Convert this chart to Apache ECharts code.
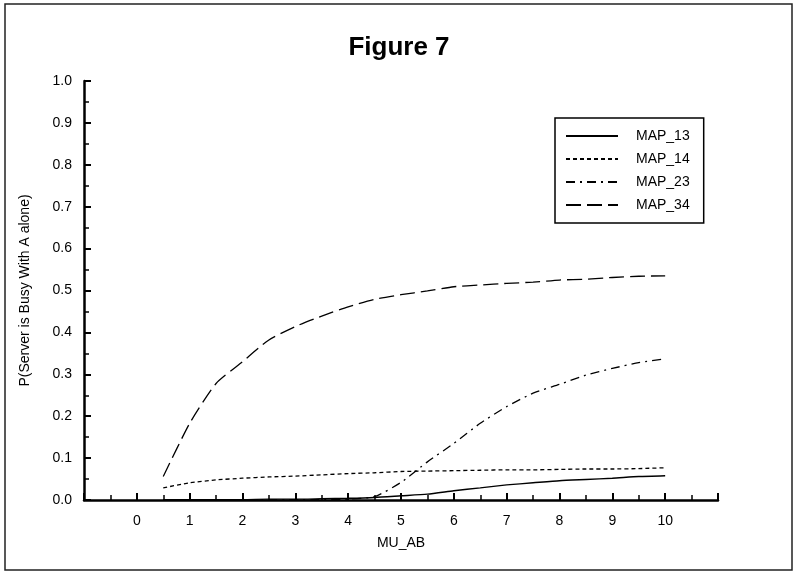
<!DOCTYPE html>
<html>
<head>
<meta charset="utf-8">
<script src="https://cdn.jsdelivr.net/npm/echarts@6/dist/echarts.min.js"></script>
<style>
  html, body { margin: 0; padding: 0; background: #fff; }
  #main { width: 798px; height: 577px; }
</style>
</head>
<body>
<div id="main"></div>
<script>
// x values (MU_AB)
var muAB = [0.5, 1, 1.5, 2, 2.5, 3, 3.5, 4, 4.5, 5, 5.5, 6, 6.5, 7, 7.5, 8, 8.5, 9, 9.5, 10];

var map13 = [0.001, 0.001, 0.001, 0.001, 0.002, 0.002, 0.003, 0.004, 0.006, 0.010,
             0.014, 0.022, 0.029, 0.036, 0.041, 0.046, 0.049, 0.052, 0.056, 0.058];
var map14 = [0.029, 0.041, 0.048, 0.052, 0.055, 0.057, 0.060, 0.063, 0.065, 0.068,
             0.069, 0.070, 0.071, 0.072, 0.072, 0.073, 0.074, 0.074, 0.075, 0.077];
var map23 = [0, 0, 0, 0, 0, 0.001, 0.001, 0.002, 0.008, 0.042,
             0.091, 0.135, 0.183, 0.223, 0.255, 0.276, 0.298, 0.314, 0.328, 0.337];
var map34 = [0.056, 0.183, 0.278, 0.330, 0.382, 0.414, 0.439, 0.461, 0.479, 0.490,
             0.499, 0.509, 0.513, 0.517, 0.520, 0.525, 0.527, 0.531, 0.534, 0.535];

var seriesNames = ['MAP_13', 'MAP_14', 'MAP_23', 'MAP_34'];
var xTickLabels = ['0', '1', '2', '3', '4', '5', '6', '7', '8', '9', '10'];

function pairs(ys) {
  return muAB.map(function (x, i) { return [x, ys[i]]; });
}

var font = 'Arial, "Liberation Sans", sans-serif';
var myChart = echarts.init(document.getElementById('main'));

function mkLine(name, data, dash, width) {
  return {
    name: name,
    type: 'line',
    data: pairs(data),
    symbol: 'none',
    smooth: 0.2,
    lineStyle: { color: '#000', width: width, type: dash },
    itemStyle: { color: '#000' }
  };
}

var option = {
  backgroundColor: '#fff',
  animation: false,
  textStyle: { fontFamily: font, color: '#000' },
  title: {
    text: 'Figure 7',
    left: 'center',
    top: 30,
    textStyle: { fontSize: 26, fontWeight: 'bold', color: '#000', fontFamily: font }
  },
  graphic: [{
    type: 'rect',
    shape: { x: 5, y: 4, width: 787, height: 566 },
    style: { fill: 'none', stroke: '#222', lineWidth: 1.5 },
    silent: true
  }],
  legend: {
    orient: 'vertical',
    left: 555,
    top: 118,
    padding: [11, 14, 11, 10],
    itemWidth: 52,
    itemHeight: 14,
    itemGap: 9,
    borderColor: '#000',
    borderWidth: 1.5,
    itemStyle: { opacity: 0 },
    textStyle: { fontSize: 14, color: '#000', padding: [0, 0, 0, 13], fontFamily: font },
    data: seriesNames
  },
  grid: { left: 84, right: 80, top: 81, bottom: 77 },
  xAxis: {
    type: 'value',
    min: -1,
    max: 11,
    interval: 1,
    name: 'MU_AB',
    nameLocation: 'middle',
    nameGap: 36,
    nameTextStyle: { fontSize: 14, color: '#000' },
    axisLine: { onZero: false, lineStyle: { color: '#000', width: 2.5 } },
    axisTick: { inside: true, length: 7, lineStyle: { color: '#000', width: 2 } },
    minorTick: { show: true, splitNumber: 2, length: 5, lineStyle: { color: '#000', width: 1.5 } },
    splitLine: { show: false },
    axisLabel: {
      fontSize: 14, color: '#000', margin: 14,
      formatter: function (v) {
        var s = String(v);
        return xTickLabels.indexOf(s) >= 0 ? s : '';
      }
    }
  },
  yAxis: {
    type: 'value',
    min: 0,
    max: 1,
    interval: 0.1,
    name: 'P(Server is Busy With A alone)',
    nameLocation: 'middle',
    nameGap: 52,
    nameTextStyle: { fontSize: 14, color: '#000' },
    axisLine: { onZero: false, lineStyle: { color: '#000', width: 2.5 } },
    axisTick: { inside: true, length: 7, lineStyle: { color: '#000', width: 2 } },
    minorTick: { show: true, splitNumber: 2, length: 5, lineStyle: { color: '#000', width: 1.5 } },
    splitLine: { show: false },
    axisLabel: {
      fontSize: 14, color: '#000', margin: 12,
      formatter: function (v) { return v.toFixed(1); }
    }
  },
  series: [
    mkLine('MAP_13', map13, 'solid', 1.4),
    mkLine('MAP_14', map14, [4, 3], 1.3),
    mkLine('MAP_23', map23, [9, 5, 2, 5], 1.3),
    mkLine('MAP_34', map34, [15, 6], 1.3)
  ]
};

myChart.setOption(option);
</script>
</body>
</html>
